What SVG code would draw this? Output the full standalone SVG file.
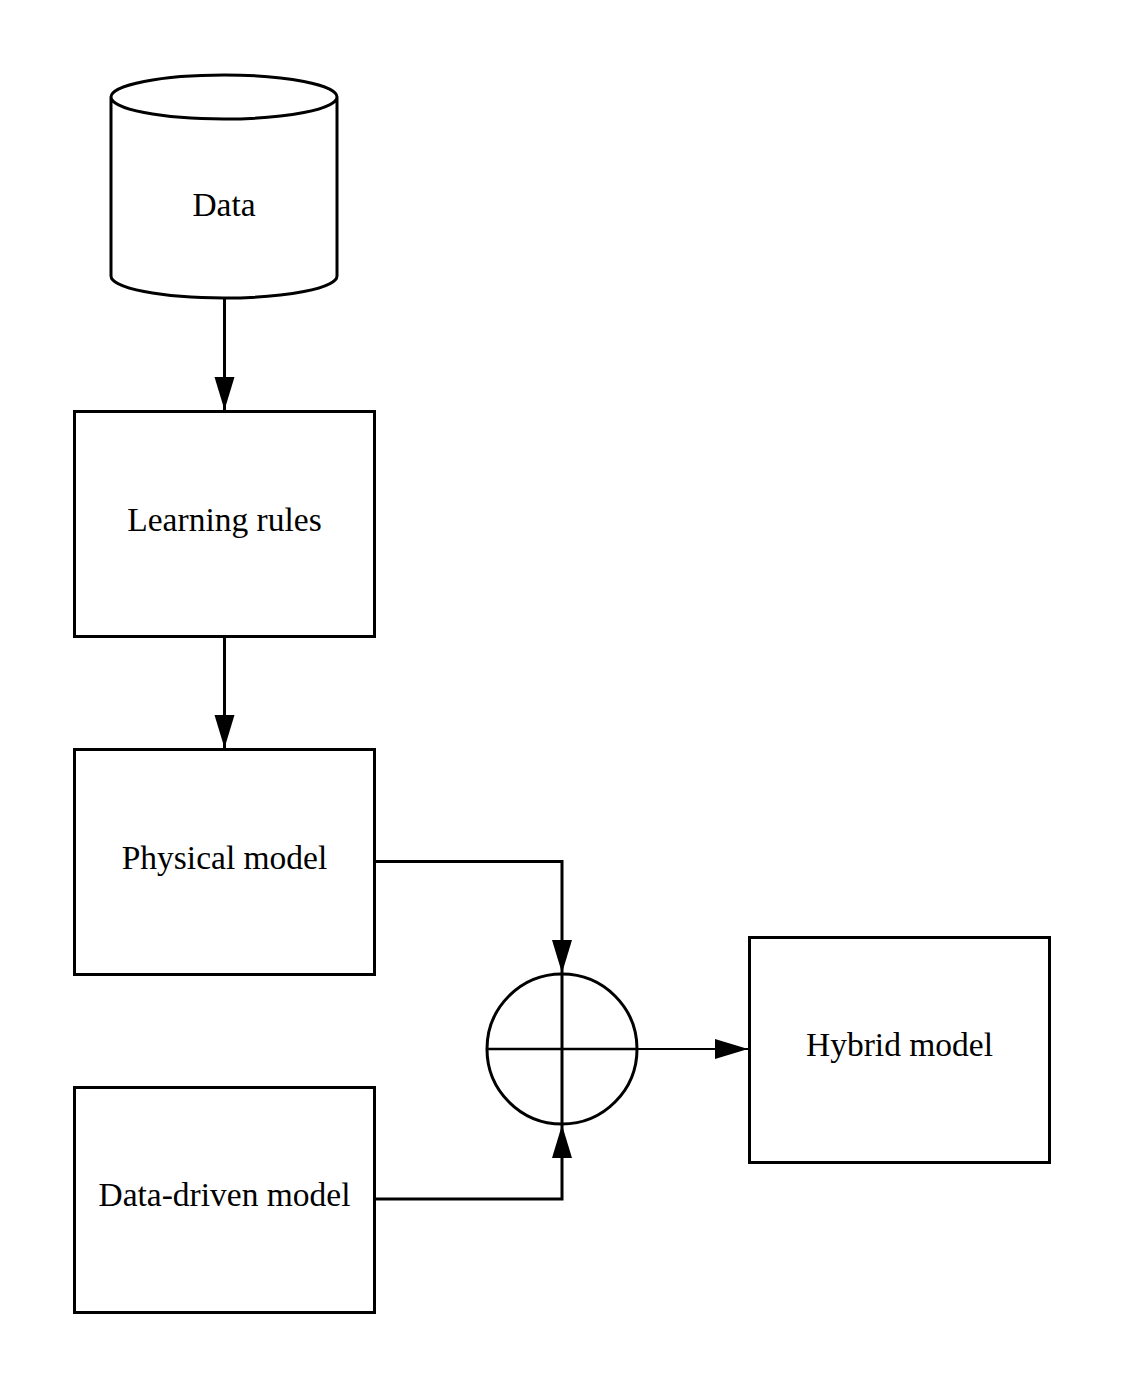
<svg xmlns="http://www.w3.org/2000/svg" width="1125" height="1388" viewBox="0 0 1125 1388">
<style>
.n{fill:#fff;stroke:#000;stroke-width:3}
.t{font-family:"Liberation Serif","Times New Roman",serif;font-size:33.5px;fill:#000;text-anchor:middle}
.c{fill:none;stroke:#000;stroke-width:3}
</style>
<defs>
<marker id="a" markerUnits="userSpaceOnUse" markerWidth="34" markerHeight="22" refX="33" refY="11" orient="auto" viewBox="0 0 34 22">
<path d="M0,1 L33,11 L0,21 z" fill="#000"/>
</marker>
</defs>
<rect width="1125" height="1388" fill="#fff"/>
<g id="data">
<path class="n" d="M111,97 L111,276 A113,22 0 0 0 337,276 L337,97 A113,22 0 0 0 111,97 A113,22 0 0 0 337,97"/>
<text class="t" x="224" y="216">Data</text>
</g>
<g id="learning">
<rect class="n" x="74.5" y="411.5" width="300" height="225"/>
<text class="t" x="224.5" y="531">Learning rules</text>
</g>
<g id="physical">
<rect class="n" x="74.5" y="749.5" width="300" height="225"/>
<text class="t" x="224.5" y="869">Physical model</text>
</g>
<g id="datadriven">
<rect class="n" x="74.5" y="1087.5" width="300" height="225"/>
<text class="t" x="224.5" y="1206">Data-driven model</text>
</g>
<g id="hybrid">
<rect class="n" x="749.5" y="937.5" width="300" height="225"/>
<text class="t" x="899.5" y="1056">Hybrid model</text>
</g>
<g id="sum">
<circle class="n" cx="562" cy="1049" r="75"/>
<line x1="487" y1="1049" x2="637" y2="1049" stroke="#000" stroke-width="2.5"/>
<line x1="562" y1="974" x2="562" y2="1124" stroke="#000" stroke-width="3"/>
</g>
<g id="connectors">
<line class="c" x1="224.5" y1="299" x2="224.5" y2="410" marker-end="url(#a)"/>
<line class="c" x1="224.5" y1="637" x2="224.5" y2="748" marker-end="url(#a)"/>
<polyline class="c" points="375,861.5 562,861.5 562,973" marker-end="url(#a)"/>
<polyline class="c" points="375,1199 562,1199 562,1125" marker-end="url(#a)"/>
<line x1="637" y1="1049" x2="748" y2="1049" stroke="#000" stroke-width="2" marker-end="url(#a)"/>
</g>
</svg>
